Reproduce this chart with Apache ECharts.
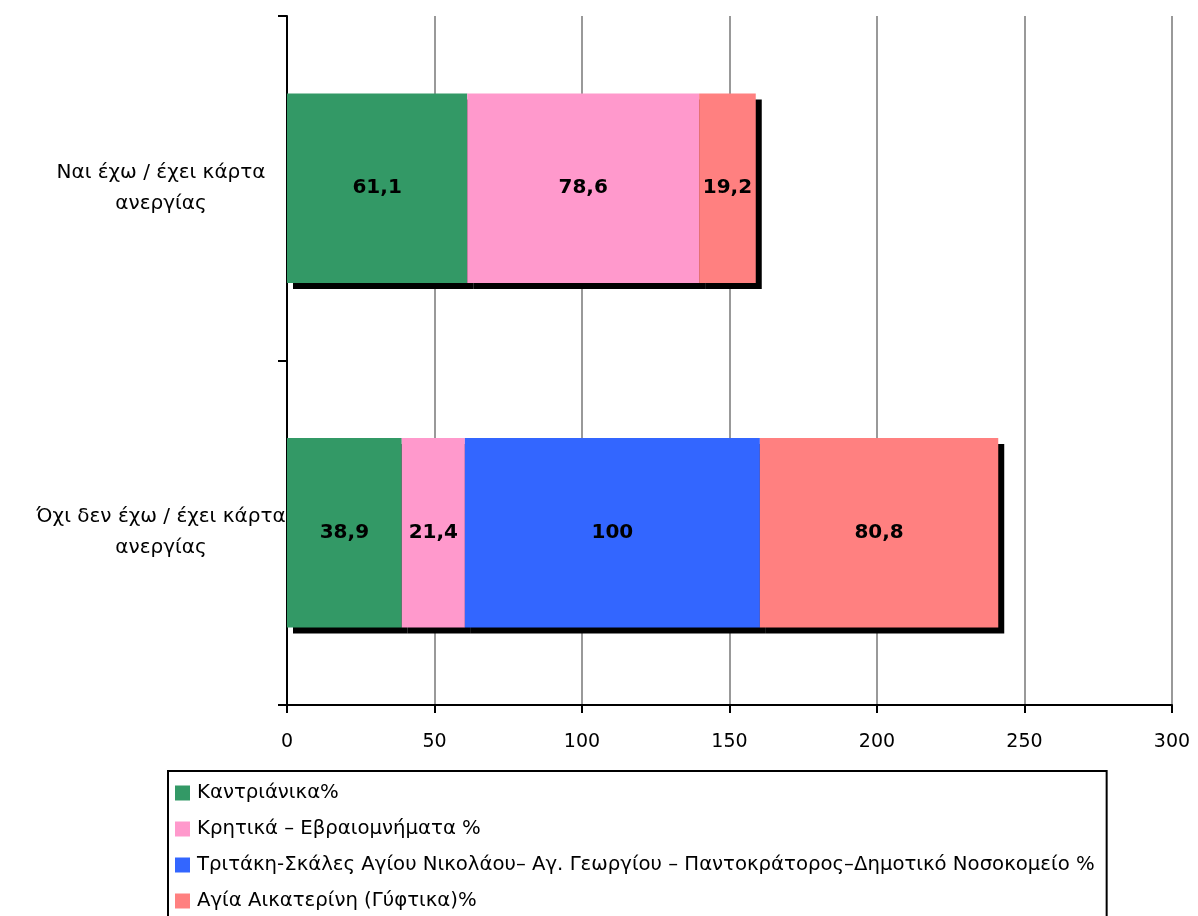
<!DOCTYPE html>
<html><head><meta charset="utf-8">
<script src="https://cdn.jsdelivr.net/npm/echarts@6/dist/echarts.min.js"></script>
<style>html,body{margin:0;padding:0;background:#fff}#c{width:1198px;height:916px}</style>
</head><body><div id="c"></div>
<script>
const categories = ["Ναι έχω / έχει κάρτα\nανεργίας", "Όχι δεν έχω / έχει κάρτα\nανεργίας"];
const seriesNames = ["Καντριάνικα%", "Κρητικά – Εβραιομνήματα %", "Τριτάκη-Σκάλες Αγίου Νικολάου– Αγ. Γεωργίου – Παντοκράτορος–Δημοτικό Νοσοκομείο %", "Αγία Αικατερίνη (Γύφτικα)%"];
const kantrianika = [61.1, 38.9];
const kritika = [78.6, 21.4];
const tritaki = [null, 100];
const agiaAikaterini = [19.2, 80.8];
const colors = ["#339966", "#FF99CC", "#3366FF", "#FF8080"];
const xTicks = [0, 300, 50];

const FONT = "DejaVu Sans";
const allData = [kantrianika, kritika, tritaki, agiaAikaterini];
const chart = echarts.init(document.getElementById('c'), null, {renderer: 'canvas'});
chart.setOption({
  animation: false,
  grid: {left: 287, right: 26, top: 16, bottom: 211, containLabel: false},
  xAxis: {
    type: 'value', min: xTicks[0], max: xTicks[1], interval: xTicks[2],
    axisLine: {show: true, lineStyle: {color: '#000', width: 2}},
    axisTick: {show: true, length: 8, lineStyle: {color: '#000', width: 2}},
    axisLabel: {color: '#000', fontFamily: FONT, fontSize: 19, margin: 28},
    splitLine: {show: true, lineStyle: {color: '#999', width: 2}}
  },
  yAxis: {
    type: 'category', data: categories, inverse: true,
    axisLine: {show: true, lineStyle: {color: '#000', width: 2}},
    axisTick: {show: true, length: 9, lineStyle: {color: '#000', width: 2}},
    axisLabel: {color: '#000', fontFamily: FONT, fontSize: 20, margin: 126, align: 'center', lineHeight: 31},
    splitLine: {show: false}
  },
  legend: {
    orient: 'vertical', left: 168, top: 771, height: 160,
    data: seriesNames,
    itemWidth: 15, itemHeight: 15, itemGap: 16,
    padding: [12, 12, 12, 7],
    borderColor: '#000', borderWidth: 2,
    textStyle: {color: '#000', fontFamily: FONT, fontSize: 19.7, lineHeight: 20, padding: [0, 0, 0, 2]},
    icon: 'rect'
  },
  series: seriesNames.map((n, i) => ({
    name: n, type: 'bar', stack: 'total', barWidth: '55%',
    data: allData[i].map(v => v == null ? '-' : v),
    itemStyle: {color: colors[i], shadowColor: '#000', shadowOffsetX: 6, shadowOffsetY: 6, shadowBlur: 0},
    label: {show: true, position: 'inside', color: '#000', fontFamily: FONT, fontSize: 20, fontWeight: 'bold',
      formatter: p => String(p.value).replace('.', ',')}
  }))
});
</script></body></html>
